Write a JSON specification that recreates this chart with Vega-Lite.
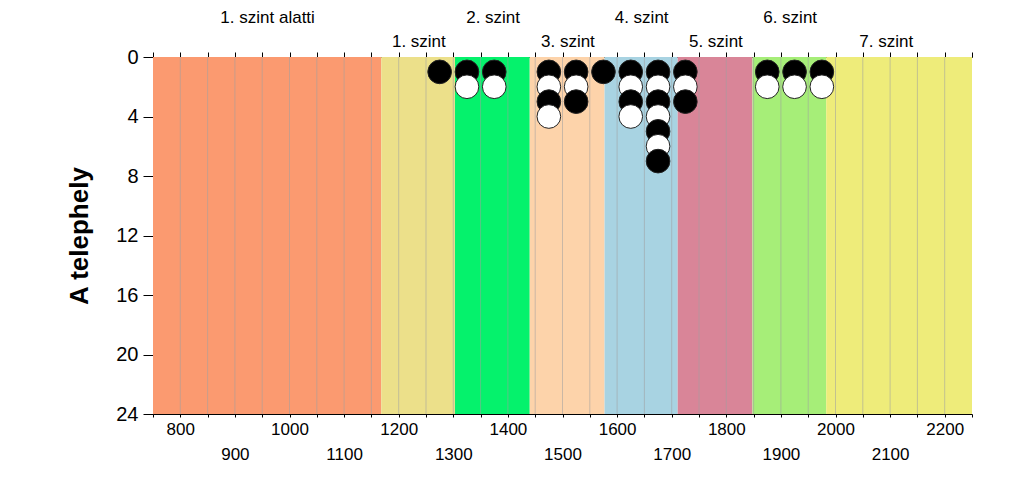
{
  "$schema": "https://vega.github.io/schema/vega-lite/v6.json",
  "width": 819,
  "height": 357,
  "autosize": {"type": "none"},
  "padding": {"left": 153, "top": 57, "right": 52, "bottom": 64},
  "background": "white",
  "config": {
    "view": {"stroke": null},
    "font": "Liberation Sans",
    "axis": {
      "labelFont": "Liberation Sans",
      "titleFont": "Liberation Sans",
      "domainColor": "#000000",
      "tickColor": "#000000",
      "labelColor": "#000000",
      "titleColor": "#000000",
      "grid": false
    }
  },
  "layer": [
    {
      "data": {
        "values": [
          {"szint": "1. szint alatti", "start": 750, "end": 1168},
          {"szint": "1. szint", "start": 1168, "end": 1303},
          {"szint": "2. szint", "start": 1303, "end": 1440},
          {"szint": "3. szint", "start": 1440, "end": 1577},
          {"szint": "4. szint", "start": 1577, "end": 1711},
          {"szint": "5. szint", "start": 1711, "end": 1848},
          {"szint": "6. szint", "start": 1848, "end": 1983},
          {"szint": "7. szint", "start": 1983, "end": 2250}
        ]
      },
      "mark": {"type": "rect"},
      "encoding": {
        "x": {
          "field": "start",
          "type": "quantitative",
          "scale": {"domain": [750, 2250], "nice": false, "zero": false},
          "axis": {
            "orient": "bottom",
            "title": null,
            "values": [750, 800, 850, 900, 950, 1000, 1050, 1100, 1150, 1200, 1250, 1300, 1350, 1400, 1450, 1500, 1550, 1600, 1650, 1700, 1750, 1800, 1850, 1900, 1950, 2000, 2050, 2100, 2150, 2200, 2250],
            "format": "d",
            "labelExpr": "datum.value % 100 == 0 && datum.value >= 800 && datum.value <= 2200 ? datum.label : ''",
            "labelFontSize": 17,
            "labelPadding": {"condition": {"test": "datum.value % 200 == 0", "value": 4}, "value": 29},
            "tickSize": 3,
            "labelOverlap": false,
            "labelFlush": false,
            "labelBound": false
          }
        },
        "x2": {"field": "end"},
        "color": {
          "field": "szint",
          "type": "nominal",
          "scale": {
            "domain": ["1. szint alatti", "1. szint", "2. szint", "3. szint", "4. szint", "5. szint", "6. szint", "7. szint"],
            "range": ["#FB9A70", "#ECE08A", "#05F26C", "#FDD3AA", "#A8D3E2", "#D98598", "#A6EE78", "#EEEC7A"]
          },
          "legend": null
        }
      }
    },
    {
      "data": {
        "values": [
          {"x": 800}, {"x": 850}, {"x": 900}, {"x": 950}, {"x": 1000}, {"x": 1050}, {"x": 1100}, {"x": 1150},
          {"x": 1200}, {"x": 1250}, {"x": 1300}, {"x": 1350}, {"x": 1400}, {"x": 1450}, {"x": 1500}, {"x": 1550},
          {"x": 1600}, {"x": 1650}, {"x": 1700}, {"x": 1750}, {"x": 1800}, {"x": 1850}, {"x": 1900}, {"x": 1950},
          {"x": 2000}, {"x": 2050}, {"x": 2100}, {"x": 2150}, {"x": 2200}
        ]
      },
      "mark": {"type": "rule", "color": "#a0a0a0", "strokeWidth": 1, "opacity": 0.55},
      "encoding": {
        "x": {"field": "x", "type": "quantitative", "axis": null}
      }
    },
    {
      "data": {
        "values": [
          {"ertek": 1275, "db": 1, "csoport": "a"},
          {"ertek": 1325, "db": 1, "csoport": "a"},
          {"ertek": 1325, "db": 2, "csoport": "b"},
          {"ertek": 1375, "db": 1, "csoport": "a"},
          {"ertek": 1375, "db": 2, "csoport": "b"},
          {"ertek": 1475, "db": 1, "csoport": "a"},
          {"ertek": 1475, "db": 2, "csoport": "b"},
          {"ertek": 1475, "db": 3, "csoport": "a"},
          {"ertek": 1475, "db": 4, "csoport": "b"},
          {"ertek": 1525, "db": 1, "csoport": "a"},
          {"ertek": 1525, "db": 2, "csoport": "b"},
          {"ertek": 1525, "db": 3, "csoport": "a"},
          {"ertek": 1575, "db": 1, "csoport": "a"},
          {"ertek": 1625, "db": 1, "csoport": "a"},
          {"ertek": 1625, "db": 2, "csoport": "b"},
          {"ertek": 1625, "db": 3, "csoport": "a"},
          {"ertek": 1625, "db": 4, "csoport": "b"},
          {"ertek": 1675, "db": 1, "csoport": "a"},
          {"ertek": 1675, "db": 2, "csoport": "b"},
          {"ertek": 1675, "db": 3, "csoport": "a"},
          {"ertek": 1675, "db": 4, "csoport": "b"},
          {"ertek": 1675, "db": 5, "csoport": "a"},
          {"ertek": 1675, "db": 6, "csoport": "b"},
          {"ertek": 1675, "db": 7, "csoport": "a"},
          {"ertek": 1725, "db": 1, "csoport": "a"},
          {"ertek": 1725, "db": 2, "csoport": "b"},
          {"ertek": 1725, "db": 3, "csoport": "a"},
          {"ertek": 1875, "db": 1, "csoport": "a"},
          {"ertek": 1875, "db": 2, "csoport": "b"},
          {"ertek": 1925, "db": 1, "csoport": "a"},
          {"ertek": 1925, "db": 2, "csoport": "b"},
          {"ertek": 1975, "db": 1, "csoport": "a"},
          {"ertek": 1975, "db": 2, "csoport": "b"}
        ]
      },
      "mark": {"type": "point", "shape": "circle", "filled": true, "size": 560, "stroke": "#222222", "strokeWidth": 1, "opacity": 1},
      "encoding": {
        "x": {
          "field": "ertek",
          "type": "quantitative",
          "axis": {
            "orient": "top",
            "title": null,
            "values": [750, 800, 850, 900, 950, 959, 1000, 1050, 1100, 1150, 1200, 1236, 1250, 1300, 1350, 1372, 1400, 1450, 1500, 1509, 1550, 1600, 1644, 1650, 1700, 1750, 1780, 1800, 1850, 1900, 1916, 1950, 2000, 2050, 2092, 2100, 2150, 2200, 2250],
            "labelExpr": "datum.value == 959 ? '1. szint alatti' : datum.value == 1236 ? '1. szint' : datum.value == 1372 ? '2. szint' : datum.value == 1509 ? '3. szint' : datum.value == 1644 ? '4. szint' : datum.value == 1780 ? '5. szint' : datum.value == 1916 ? '6. szint' : datum.value == 2092 ? '7. szint' : ''",
            "labelFontSize": 17,
            "labelPadding": {"condition": {"test": "indexof([959, 1372, 1644, 1916], datum.value) >= 0", "value": 26}, "value": 2},
            "tickSize": 5,
            "tickOpacity": {"condition": {"test": "datum.value % 50 == 0", "value": 1}, "value": 0},
            "labelOverlap": false,
            "labelFlush": false,
            "labelBound": false
          }
        },
        "y": {
          "field": "db",
          "type": "quantitative",
          "scale": {"domain": [0, 24], "reverse": true, "nice": false, "zero": false},
          "axis": {
            "title": "A telephely",
            "titleFontSize": 26,
            "titleFontWeight": "bold",
            "titlePadding": 23,
            "values": [0, 4, 8, 12, 16, 20, 24],
            "labelFontSize": 20,
            "tickSize": 10,
            "labelPadding": 5,
            "labelOverlap": false,
            "labelFlush": false,
            "labelBound": false
          }
        },
        "fill": {
          "field": "csoport",
          "type": "nominal",
          "scale": {"domain": ["a", "b"], "range": ["#000000", "#ffffff"]},
          "legend": null
        }
      }
    }
  ],
  "resolve": {"axis": {"x": "independent"}}
}
